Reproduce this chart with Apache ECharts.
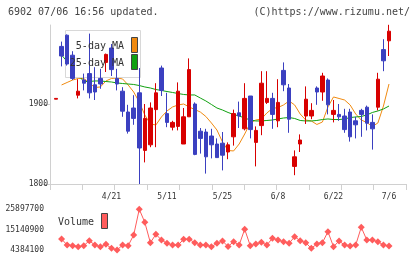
<html>
    <head>
        <meta charset="utf-8">
        <script src="https://cdn.jsdelivr.net/npm/echarts@6/dist/echarts.min.js"></script>
    </head>
    <body>
        <style>
            html, body, #main {
                width: 100%;
                height: 100%;
                margin: 0;
                background: #fff;
            }
        </style>
        <div id='main'></div>
        <script>
            var dates = ['4/7','4/8','4/9','4/10','4/13','4/14','4/15','4/16','4/17','4/20',
                '4/21','4/22','4/23','4/24','4/27','4/28','4/30','5/1','5/7','5/8',
                '5/11','5/12','5/13','5/14','5/15','5/18','5/19','5/20','5/21','5/22',
                '5/25','5/26','5/27','5/28','5/29','6/1','6/2','6/3','6/4','6/5',
                '6/8','6/9','6/10','6/11','6/12','6/15','6/16','6/17','6/18','6/19',
                '6/22','6/23','6/24','6/25','6/26','6/29','6/30','7/1','7/2','7/3','7/6'];
            var tickLabels = ['4/21','5/11','5/25','6/8','6/22','7/6'];
            var priceTicks = [1800, 1900];

            var opens  = [1906,1972,1986,1961,1911,1930,1938,1924,1932,1952,
                          1970,1932,1916,1890,1895,1914,1842,1849,1893,1945,
                          1888,1871,1872,1850,1884,1900,1866,1865,1860,1850,
                          1851,1840,1859,1889,1869,1910,1852,1873,1902,1907,
                          1879,1942,1920,1822,1850,1885,1885,1920,1915,1930,
                          1887,1887,1885,1890,1879,1892,1896,1877,1896,1968,1979];
            var closes = [1907,1960,1950,1932,1916,1926,1914,1915,1925,1962,
                          1943,1925,1891,1866,1882,1845,1882,1895,1914,1917,
                          1877,1877,1916,1884,1943,1837,1857,1834,1849,1833,
                          1836,1849,1888,1885,1907,1868,1867,1926,1907,1887,
                          1902,1924,1881,1834,1855,1906,1892,1915,1935,1899,
                          1892,1884,1868,1859,1874,1887,1876,1869,1931,1954,1991];
            var lows   = [1906,1947,1948,1930,1907,1917,1907,1905,1919,1940,
                          1935,1917,1884,1863,1874,1800,1827,1846,1846,1910,
                          1871,1867,1867,1850,1884,1836,1838,1813,1832,1833,
                          1817,1831,1848,1870,1867,1857,1822,1861,1900,1869,
                          1871,1916,1864,1811,1840,1875,1881,1899,1904,1887,
                          1877,1879,1864,1853,1857,1859,1867,1843,1892,1941,1960];
            var highs  = [1907,1978,1987,1966,1931,1938,1988,1946,1944,1963,
                          1975,1944,1921,1899,1911,1945,1900,1902,1926,1948,
                          1914,1879,1927,1895,1957,1902,1870,1869,1869,1857,
                          1865,1852,1893,1903,1926,1910,1872,1941,1941,1914,
                          1931,1952,1925,1842,1862,1922,1901,1922,1939,1932,
                          1905,1900,1894,1894,1884,1894,1898,1887,1939,1981,1999];

            var ma5  = ['-',1923.8,1926.9,1930,1931.9,1931.9,1926.3,1920.6,1921.3,1928.8,
                        1931.9,1932.5,1931.3,1923.8,1915,1902.5,1886.3,1875,1873.8,1883.8,
                        1891.3,1896.3,1898.8,1900,1896.3,1893.1,1890,1884.4,1876.3,1867.5,
                        1852.5,1841.9,1841.3,1850,1862.5,1876.3,1880,1881.3,1888.8,1894.4,
                        1895.6,1898.8,1903.8,1898.8,1887.5,1880,1878.8,1874.4,1877.5,1896.3,
                        1908.8,1906.9,1905,1898.8,1887.5,1880,1876.9,1871.9,1876.3,1897.5,1925];
            var ma25 = ['-',1961.3,1953.1,1945,1936.3,1928.1,1928.1,1928.8,1928.8,1928.1,
                        1927.5,1926.3,1925.6,1925,1924.4,1923.1,1921.3,1920,1918.1,1916.9,
                        1915.6,1914.4,1913.1,1911.9,1911.3,1911.3,1907.5,1903.8,1899.4,1895,
                        1892.5,1889.4,1886.9,1885,1882.5,1880,1878.8,1878.8,1879.4,1880,
                        1881.3,1882.5,1883.1,1881.9,1879.4,1878.8,1878.8,1879.4,1880.6,1881.3,
                        1880.6,1880.6,1881.3,1883.1,1883.8,1884.4,1886.3,1889.4,1891.3,1893.8,1897.5];

            var volume = ['-',10200000,7030000,6660000,6130000,6660000,9300000,7030000,6130000,7400000,
                          5280000,4384100,7030000,6660000,12310000,25897700,19030000,8240000,12680000,9670000,
                          7930000,7030000,7030000,10040000,10040000,8240000,7030000,7030000,6130000,7930000,
                          9140000,6230000,8770000,7030000,15330000,6660000,7560000,8450000,7030000,10570000,
                          9670000,8770000,7930000,11410000,9300000,8240000,5280000,7560000,8240000,14060000,
                          6130000,9140000,7030000,6500000,7030000,16380000,9670000,9670000,8770000,7030000,6500000];
            var volTicks = [4384100, 15140900, 25897700];

            var mono = 'DejaVu Sans Mono';
            var candles = [];
            for (var i = 0; i < dates.length; i++) {
                candles.push([opens[i], closes[i], lows[i], highs[i]]);
            }

            var chart = echarts.init(document.getElementById('main'));
            var option = {
                animation: false,
                grid: [
                    {left: 56, right: 31, top: 24, bottom: 75},
                    {left: 50, right: 14, top: 25, bottom: 75},
                    {left: 56, right: 31, top: 209.3, bottom: 9}
                ],
                xAxis: [
                    {
                        type: 'category', gridIndex: 0, data: dates, boundaryGap: false,
                        axisLine: {show: false}, axisTick: {show: false}, splitLine: {show: false},
                        axisLabel: {
                            interval: function (idx, val) { return tickLabels.indexOf(val) >= 0; },
                            fontSize: 8, fontFamily: mono, color: '#333', margin: 9
                        }
                    },
                    {
                        type: 'value', gridIndex: 1, min: 0, max: 11, interval: 1,
                        axisLine: {show: true, lineStyle: {color: '#d0d0d0'}},
                        axisTick: {show: true, length: 6, lineStyle: {color: '#d0d0d0'}},
                        axisLabel: {show: false}, splitLine: {show: false}
                    },
                    {type: 'category', gridIndex: 2, data: dates, boundaryGap: false, show: false}
                ],
                yAxis: [
                    {type: 'value', gridIndex: 0, min: 1800, max: 2000, show: false, splitLine: {show: false}},
                    {
                        type: 'value', gridIndex: 1, min: 1800, max: 1998.75,
                        axisLine: {show: true, lineStyle: {color: '#d0d0d0'}},
                        axisTick: {show: true, length: 8, customValues: priceTicks, lineStyle: {color: '#d0d0d0'}},
                        axisLabel: {customValues: priceTicks, fontSize: 8, fontFamily: mono, color: '#333', margin: 2,
                            formatter: function (v) { return String(v); }},
                        splitLine: {show: false}
                    },
                    {
                        type: 'value', gridIndex: 2, min: volTicks[0], max: volTicks[2],
                        axisLine: {show: false}, axisTick: {show: false}, splitLine: {show: false},
                        axisLabel: {customValues: volTicks, fontSize: 8, fontFamily: mono, color: '#333', margin: 12,
                            formatter: function (v) { return String(v); }}
                    }
                ],
                series: [
                    {
                        type: 'line', xAxisIndex: 0, yAxisIndex: 0, data: ma5, z: 1,
                        symbol: 'none', lineStyle: {color: '#f08a10', width: 1}
                    },
                    {
                        type: 'line', xAxisIndex: 0, yAxisIndex: 0, data: ma25, z: 1,
                        symbol: 'none', lineStyle: {color: '#10a010', width: 1}
                    },
                    {
                        type: 'candlestick', xAxisIndex: 0, yAxisIndex: 0, data: candles,
                        barWidth: 4, clip: false, z: 3,
                        itemStyle: {
                            color: '#d80000', borderColor: '#d80000',
                            color0: '#3b40c0', borderColor0: '#3b40c0', borderWidth: 1
                        }
                    },
                    {
                        type: 'line', xAxisIndex: 2, yAxisIndex: 2, data: volume,
                        symbol: 'diamond', symbolSize: [7, 7], showAllSymbol: true, clip: false,
                        itemStyle: {color: '#ff5c5c'}, lineStyle: {color: '#ff5c5c', width: 1}
                    }
                ],
                graphic: [
                    {type: 'text', left: 8, top: 7, z: 5,
                        style: {text: '6902 07/06 16:56 updated.', font: '10px "DejaVu Sans Mono"', fill: '#444'}},
                    {type: 'text', right: 10, top: 7, z: 5,
                        style: {text: '(C)https://www.rizumu.net/', font: '10px "DejaVu Sans Mono"', fill: '#444'}},
                    {type: 'rect', z: 2, shape: {x: 65.5, y: 30.5, width: 75, height: 47},
                        style: {fill: '#fff', stroke: '#d8d8d8', lineWidth: 1}},
                    {type: 'text', z: 4, x: 124, y: 46,
                        style: {text: '5-day MA', font: '10px "DejaVu Sans Mono"', fill: '#333', align: 'right', verticalAlign: 'middle'}},
                    {type: 'text', z: 4, x: 124, y: 63,
                        style: {text: '25-day MA', font: '10px "DejaVu Sans Mono"', fill: '#333', align: 'right', verticalAlign: 'middle'}},
                    {type: 'rect', z: 4, shape: {x: 131.5, y: 37.5, width: 6, height: 15},
                        style: {fill: '#f08a10', stroke: '#444', lineWidth: 1}},
                    {type: 'rect', z: 4, shape: {x: 131.5, y: 54.5, width: 6, height: 15},
                        style: {fill: '#10a010', stroke: '#444', lineWidth: 1}},
                    {type: 'text', z: 4, x: 58, y: 222,
                        style: {text: 'Volume', font: '10px "DejaVu Sans Mono"', fill: '#333', verticalAlign: 'middle'}},
                    {type: 'rect', z: 4, shape: {x: 101.5, y: 213.5, width: 6, height: 15},
                        style: {fill: '#ff5c5c', stroke: '#444', lineWidth: 1}}
                ]
            };

            chart.setOption(option);

            window.onresize = chart.resize;
        </script>
    </body>
</html>
